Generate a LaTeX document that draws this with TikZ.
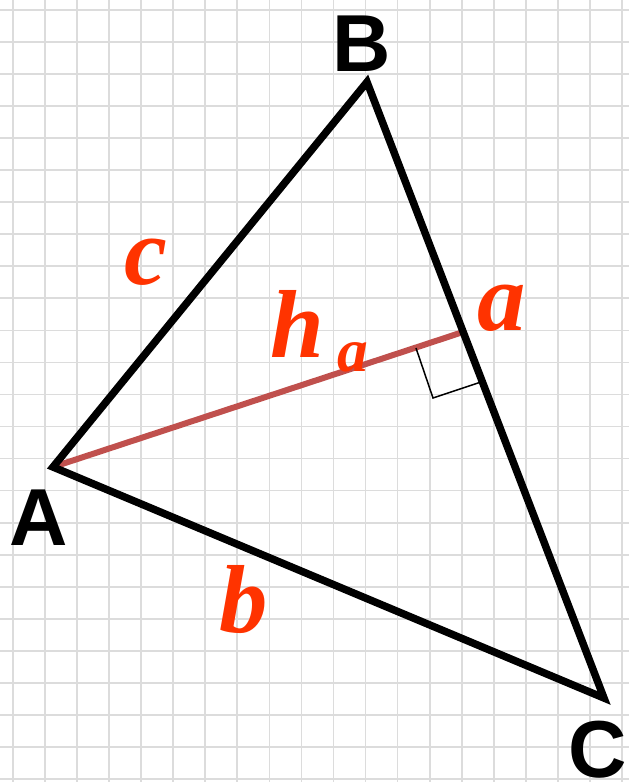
\documentclass[tikz,border=0pt]{standalone}
\usepackage{fontspec}
\newfontfamily\labfont{Liberation Sans}
\newfontfamily\redfont{Liberation Serif}
\definecolor{gridgray}{HTML}{DCDCDC}
\definecolor{labred}{HTML}{FF3300}
\definecolor{altred}{HTML}{C0504D}
\begin{document}
\begin{tikzpicture}[x=0.02cm,y=-0.02cm,
  gridline/.style={draw=gridgray,line width=0.035cm},
  side/.style={draw=black,line width=0.15cm,line join=miter},
  altitude/.style={draw=altred,line width=0.12cm},
  rightmark/.style={draw=black,line width=0.03cm},
  vertexlab/.style={font=\labfont\bfseries\fontsize{46}{46}\selectfont,inner sep=0pt,anchor=base},
  sidelab/.style={text=labred,font=\redfont\bfseries\itshape\fontsize{55}{55}\selectfont,inner sep=0pt,anchor=base},
  sublab/.style={text=labred,font=\redfont\bfseries\itshape\fontsize{35}{35}\selectfont,inner sep=0pt,anchor=base}]
\fill[white] (0,0) rectangle (629,782);
\useasboundingbox (0,0) rectangle (629,782);
% grid
\foreach \i in {0,...,19} {\draw[gridline] ({13+32.05*\i},0) -- ({13+32.05*\i},782);}
\foreach \j in {0,...,24} {\draw[gridline] (0,{10+32.04*\j}) -- (629,{10+32.04*\j});}
% vertices
\coordinate (A) at (53,467);
\coordinate (B) at (367,82);
\coordinate (C) at (604,698);
\coordinate (H) at (460,333);
\coordinate (P1) at (416,348);
\coordinate (P2) at (433,398);
\coordinate (P3) at (481,382);
% altitude
\draw[altitude] (A) -- (H);
% right angle mark
\draw[rightmark] (P1) -- (P2) -- (P3);
% triangle
\draw[side] (A) -- (B) -- (C) -- cycle;
% labels
\node[vertexlab] (lB) at (362,71) {B};
\node[vertexlab] (lA) at (39,545) {A};
\node[vertexlab] (lC) at (598,777) {C};
\node[sidelab] (lc) at (146,284) {c};
\node[sidelab] (lh) at (297,357) {h};
\node[sublab] (lsub) at (353,371) {a};
\node[sidelab] (la) at (502,330) {a};
\node[sidelab] (lb) at (244,632) {b};
\end{tikzpicture}
\end{document}
